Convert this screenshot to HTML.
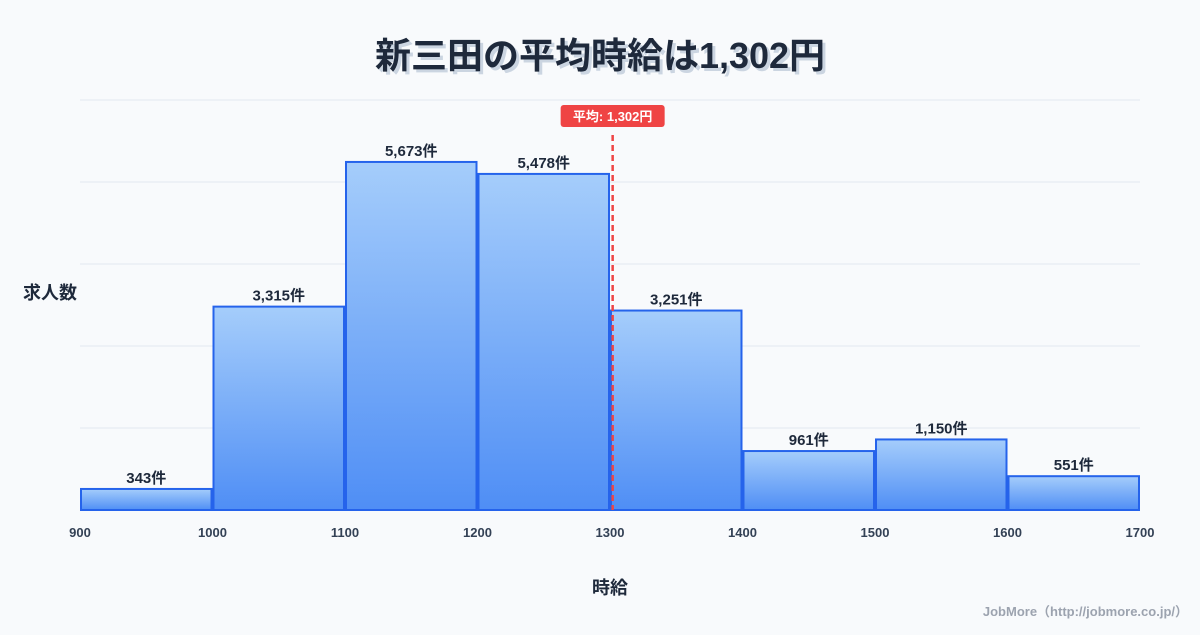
<!DOCTYPE html>
<html><head><meta charset="utf-8"><style>
body{margin:0;width:1200px;height:630px;background:#f8fafc;overflow:hidden;font-family:"Liberation Sans","Noto Sans CJK JP",sans-serif;}
</style></head><body>
<svg id="chart" width="1200" height="630" xmlns="http://www.w3.org/2000/svg">
<defs><linearGradient id="g" x1="0" y1="0" x2="0" y2="1"><stop offset="0" stop-color="#a5cdfb"/><stop offset="1" stop-color="#4f8ef5"/></linearGradient></defs>
<text x="600" y="68" text-anchor="middle" font-size="36" font-weight="bold" fill="#cbd5e1" transform="translate(3,3)" font-family="Liberation Sans,Noto Sans CJK JP,sans-serif">新三田の平均時給は1,302円</text>
<text x="600" y="68" text-anchor="middle" font-size="36" font-weight="bold" fill="#1e293b" font-family="Liberation Sans,Noto Sans CJK JP,sans-serif">新三田の平均時給は1,302円</text>
<g id="grid"></g><g id="bars"></g><g id="xt"></g>
<text x="50" y="299" text-anchor="middle" font-size="18" font-weight="bold" fill="#1e293b" font-family="Liberation Sans,Noto Sans CJK JP,sans-serif">求人数</text>
<text x="610" y="594" text-anchor="middle" font-size="18" font-weight="bold" fill="#1e293b" font-family="Liberation Sans,Noto Sans CJK JP,sans-serif">時給</text>
<text x="1188" y="616" text-anchor="end" font-size="13" font-weight="bold" fill="#9ca3af" font-family="Liberation Sans,Noto Sans CJK JP,sans-serif">JobMore（http://jobmore.co.jp/）</text>
</svg>
<script>
const binStarts=[900,1000,1100,1200,1300,1400,1500,1600];
const counts=[343,3315,5673,5478,3251,961,1150,551];
const countLabels=["343件","3,315件","5,673件","5,478件","3,251件","961件","1,150件","551件"];
const xTicks=[900,1000,1100,1200,1300,1400,1500,1600,1700];
const meanValue=1302;
const ns="http://www.w3.org/2000/svg";
const X0=80,X1=1140,Y0=510,Y1=100,xMin=900,xMax=1700,yMax=Math.max(...counts)*1.178;
const xs=v=>X0+(v-xMin)/(xMax-xMin)*(X1-X0);
const ys=v=>Y0-v/yMax*(Y0-Y1);
function mk(t,a,p){const e=document.createElementNS(ns,t);for(const k in a)e.setAttribute(k,a[k]);p.appendChild(e);return e;}
const F="Liberation Sans,Noto Sans CJK JP,sans-serif";
const grid=document.getElementById('grid');
for(let i=0;i<=5;i++){const y=Y1+i*(Y0-Y1)/5;const l=mk('line',{x1:X0,x2:X1,y1:y,y2:y,stroke:i==5?'#cbd5e1':'#e2e8f0','stroke-width':1},grid);

}
const bars=document.getElementById('bars');
binStarts.forEach((b,i)=>{const x=xs(b)+1,w=xs(b+100)-xs(b)-2,y=ys(counts[i]);
const r=mk('rect',{x:x,y:y,width:w,height:Y0-y,fill:'url(#g)',stroke:'#2563eb','stroke-width':2},bars);


const t=mk('text',{x:x+w/2,y:y-6,'text-anchor':'middle','font-size':15,'font-weight':'bold',fill:'#1e293b','font-family':F},bars);t.textContent=countLabels[i];

});
const xt=document.getElementById('xt');
xTicks.forEach(v=>{const t=mk('text',{x:xs(v),y:537,'text-anchor':'middle','font-size':13,'font-weight':'bold',fill:'#334155','font-family':F},xt);t.textContent=v;

});
const mx=xs(meanValue);
const ml=mk('line',{x1:mx,x2:mx,y1:135,y2:Y0,stroke:'#ef4444','stroke-width':2.5,'stroke-dasharray':'6,4'},xt);


const mb=mk('rect',{x:mx-52,y:105,width:104,height:22,rx:3,fill:'#ef4444'},xt);


const mt=mk('text',{x:mx,y:121,'text-anchor':'middle','font-size':13,'font-weight':'bold',fill:'#fff','font-family':F},xt);mt.textContent='平均: 1,302円';


</script>
</body></html>
